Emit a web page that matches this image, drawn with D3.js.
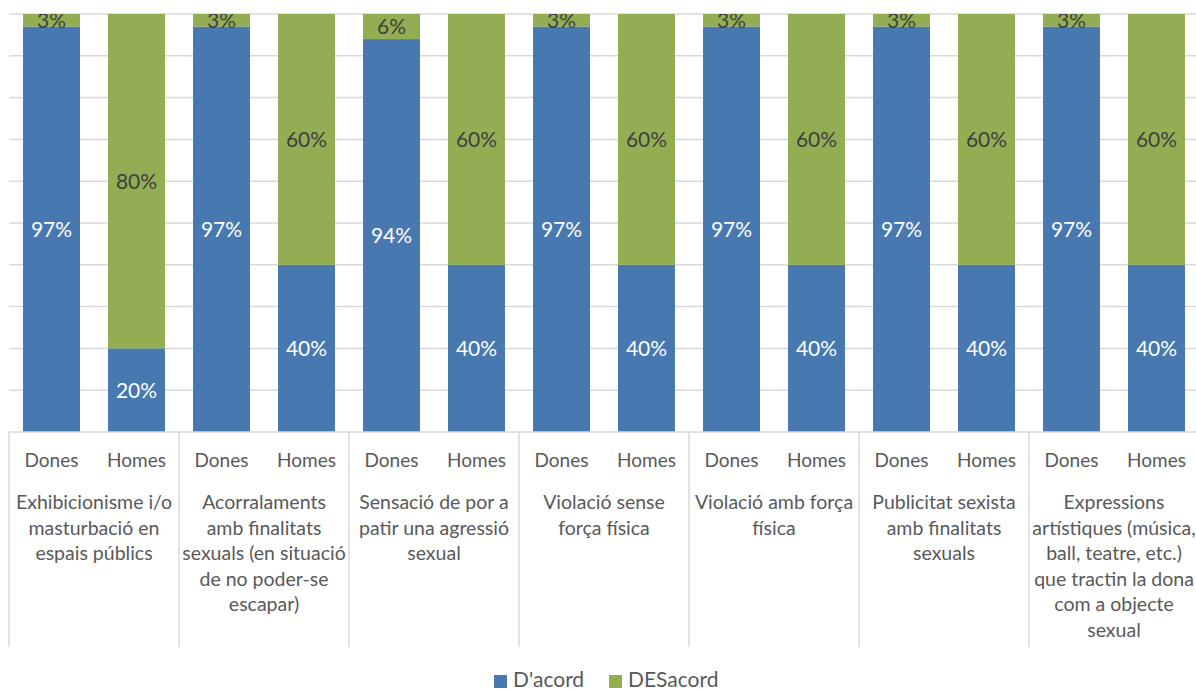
<!DOCTYPE html>
<html><head><meta charset="utf-8">
<script src="https://cdn.jsdelivr.net/npm/d3@7"></script>
<style>body{margin:0;background:#fff}svg{display:block}</style>
</head><body>
<svg id="c" width="1196" height="691"></svg>
<script>
const categories = [
  "Exhibicionisme i/o masturbació en espais públics",
  "Acorralaments amb finalitats sexuals (en situació de no poder-se escapar)",
  "Sensació de por a patir una agressió sexual",
  "Violació sense força física",
  "Violació amb força física",
  "Publicitat sexista amb finalitats sexuals",
  "Expressions artístiques (música, ball, teatre, etc.) que tractin la dona com a objecte sexual"
];
const categoryLines = [
  ["Exhibicionisme i/o","masturbació en","espais públics"],
  ["Acorralaments","amb finalitats","sexuals (en situació","de no poder-se","escapar)"],
  ["Sensació de por a","patir una agressió","sexual"],
  ["Violació sense","força física"],
  ["Violació amb força","física"],
  ["Publicitat sexista","amb finalitats","sexuals"],
  ["Expressions","artístiques (música,","ball, teatre, etc.)","que tractin la dona","com a objecte","sexual"]
];
const sexes = ["Dones","Homes"];
const seriesNames = ["D'acord","DESacord"];
const dacordDones = [0.97,0.97,0.94,0.97,0.97,0.97,0.97];
const desacordDones = [0.03,0.03,0.06,0.03,0.03,0.03,0.03];
const dacordHomes = [0.20,0.40,0.40,0.40,0.40,0.40,0.40];
const desacordHomes = [0.80,0.60,0.60,0.60,0.60,0.60,0.60];
const yTicks = [0,0.1,0.2,0.3,0.4,0.5,0.6,0.7,0.8,0.9,1];

const colors = {"D'acord":"#4878b0","DESacord":"#93ae52"};
const font = "Lato, 'Open Sans', sans-serif";

const svg = d3.select("#c");
const pLeft = 9, pRight = 1199, pTop = 14, pBottom = 432;
const x0 = d3.scaleBand().domain(categories).range([pLeft, pRight]);
const x1 = d3.scaleBand().domain(sexes).range([0, x0.bandwidth()]).paddingInner(0.33).paddingOuter(0.165);
const y = d3.scaleLinear().domain([0,1]).range([pBottom, pTop]);

const rows = [];
categories.forEach((c,i)=>{
  rows.push({cat:c, sex:"Dones", "D'acord":dacordDones[i], "DESacord":desacordDones[i]});
  rows.push({cat:c, sex:"Homes", "D'acord":dacordHomes[i], "DESacord":desacordHomes[i]});
});
const stack = d3.stack().keys(seriesNames)(rows);

svg.append("g").selectAll("line").data(yTicks.slice(1)).join("line")
  .attr("x1", pLeft).attr("x2", 1196).attr("y1", d=>y(d)).attr("y2", d=>y(d))
  .attr("stroke", "#d9d9d9").attr("stroke-width", 1.5);

svg.append("defs").append("clipPath").attr("id","plot").append("rect")
  .attr("x", pLeft).attr("y", pTop).attr("width", pRight-pLeft).attr("height", pBottom-pTop);

const plot = svg.append("g").attr("clip-path","url(#plot)");
stack.forEach(s=>{
  plot.append("g").selectAll("rect").data(s).join("rect")
    .attr("x", d=>x0(d.data.cat)+x1(d.data.sex))
    .attr("width", x1.bandwidth())
    .attr("y", d=>y(d[1]))
    .attr("height", d=>y(d[0])-y(d[1]))
    .attr("fill", colors[s.key]);
});
stack.forEach(s=>{
  plot.append("g").selectAll("text").data(s).join("text")
    .attr("x", d=>x0(d.data.cat)+x1(d.data.sex)+x1.bandwidth()/2)
    .attr("y", d=>(y(d[0])+y(d[1]))/2)
    .attr("dy","0.36em")
    .attr("text-anchor","middle")
    .attr("font-family", font).attr("font-size", 21)
    .attr("fill", s.key==="D'acord" ? "#ffffff" : "#404040")
    .text(d=>Math.round((d[1]-d[0])*100)+"%");
});

svg.append("line").attr("x1", pLeft).attr("x2", 1196).attr("y1", pBottom).attr("y2", pBottom)
  .attr("stroke","#d9d9d9").attr("stroke-width",1.5);
svg.append("g").selectAll("line").data(categories).join("line")
  .attr("x1", d=>x0(d)).attr("x2", d=>x0(d)).attr("y1", pBottom).attr("y2", 647)
  .attr("stroke","#d9d9d9").attr("stroke-width",1.5);

const lab = svg.append("g").attr("font-family", font).attr("fill","#595959");
categories.forEach(c=>{
  sexes.forEach(s=>{
    lab.append("text").attr("x", x0(c)+x1(s)+x1.bandwidth()/2).attr("y", 467)
      .attr("text-anchor","middle").attr("font-size",19).text(s);
  });
});
categories.forEach((c,i)=>{
  const t = lab.append("text").attr("text-anchor","middle").attr("font-size",19.5);
  categoryLines[i].forEach((ln,j)=>{
    t.append("tspan").attr("x", x0(c)+x0.bandwidth()/2).attr("y", 509 + j*25.5).text(ln);
  });
});

const lg = svg.append("g").attr("font-family", font).attr("font-size", 21).attr("fill","#595959");
const legendX = [494, 609];
seriesNames.forEach((n,i)=>{
  lg.append("rect").attr("x", legendX[i]).attr("y", 675).attr("width", 13).attr("height", 13).attr("fill", colors[n]);
  lg.append("text").attr("x", legendX[i]+19).attr("y", 687).text(n);
});
</script>
</body></html>
